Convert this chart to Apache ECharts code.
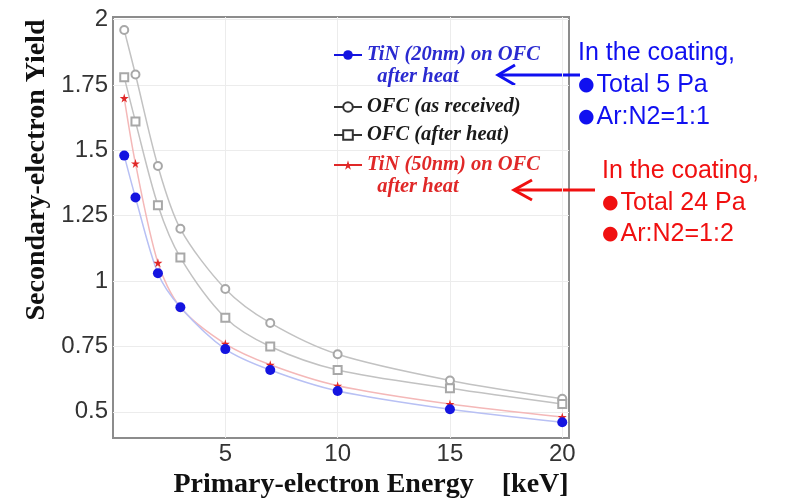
<!DOCTYPE html>
<html>
<head>
<meta charset="utf-8">
<script src="https://cdn.jsdelivr.net/npm/echarts@6/dist/echarts.min.js"></script>
<style>
  html, body { margin: 0; background: #fff; }
  #chart { width: 785px; height: 504px; }
</style>
</head>
<body>
<div id="chart"></div>
<script>
// primary-electron energy [keV]
const energy = [0.5, 1, 2, 3, 5, 7, 10, 15, 20]
// secondary-electron yield
const tin20 = [1.48, 1.32, 1.03, 0.90, 0.74, 0.66, 0.58, 0.51, 0.46]
const ofcReceived = [1.96, 1.79, 1.44, 1.20, 0.97, 0.84, 0.72, 0.62, 0.55]
const ofcHeat = [1.78, 1.61, 1.29, 1.09, 0.86, 0.75, 0.66, 0.59, 0.53]
const tin50 = [1.70, 1.45, 1.07, 0.90, 0.76, 0.68, 0.60, 0.53, 0.48]

const xTicks = [5, 10, 15, 20]
const yTicks = [0.5, 0.75, 1, 1.25, 1.5, 1.75, 2]

const N_TIN20 = 'TiN (20nm) on OFC after heat'
const N_RECV = 'OFC (as received)'
const N_HEAT = 'OFC (after heat)'
const N_TIN50 = 'TiN (50nm) on OFC after heat'

const BLUE = '#1414e0'
const RED = '#e02828'
const STAR = 'path://M50,0 L61,35 L98,35 L68,57 L79,91 L50,70 L21,91 L32,57 L2,35 L39,35 Z'
const SERIF = '"Liberation Serif", "Times New Roman", serif'
const SANS = '"Liberation Sans", Arial, sans-serif'

const pts = (ys) => energy.map((x, i) => [x, ys[i]])

const legendText = { fontFamily: SERIF, fontWeight: 'bold', fontStyle: 'italic', fontSize: 20.5, lineHeight: 22 }

// two-line names: empty first line keeps the icon on the first text line
function twoLine(name) {
  return '\n' + name.replace(' after heat', '') + '\n  after heat'
}

// side notes, bullet in its own style
const noteRich = (color, lh) => ({
  b: { fontSize: 19, fontFamily: '"DejaVu Sans", sans-serif', fill: color, lineHeight: lh, padding: [0, 2, 0, 0] },
  t: { fontSize: 25, fontFamily: SANS, fill: color, lineHeight: lh },
})

const chart = echarts.init(document.getElementById('chart'))

chart.setOption({
  animation: false,
  backgroundColor: '#fff',
  grid: { left: 113, right: 216, top: 17, bottom: 61, show: true, borderColor: '#8c8c8c', borderWidth: 2 },
  xAxis: {
    type: 'value', min: 0, max: 20.3,
    name: 'Primary-electron Energy    [keV]', nameLocation: 'middle', nameGap: 33,
    nameTextStyle: { fontFamily: SERIF, fontWeight: 'bold', fontSize: 28, color: '#111', padding: [0, 0, 0, 60] },
    axisLine: { show: false },
    axisTick: { show: false, customValues: xTicks },
    axisLabel: { customValues: xTicks, color: '#333', fontFamily: SANS, fontSize: 24, margin: 4 },
    splitLine: { lineStyle: { color: '#ececec', width: 1 } },
  },
  yAxis: {
    type: 'value', min: 0.4, max: 2.01,
    name: 'Secondary-electron Yield', nameLocation: 'middle', nameGap: 62,
    nameTextStyle: { fontFamily: SERIF, fontWeight: 'bold', fontSize: 28, color: '#111', padding: [0, 0, 0, 115] },
    axisLine: { show: false },
    axisTick: { show: false, customValues: yTicks },
    axisLabel: { customValues: yTicks, color: '#333', fontFamily: SANS, fontSize: 24, margin: 5 },
    splitLine: { lineStyle: { color: '#ececec', width: 1 } },
  },
  legend: [
    {
      left: 333, top: 22, padding: 0, selectedMode: false, itemWidth: 28, itemHeight: 12,
      textStyle: legendText, formatter: twoLine,
      data: [{ name: N_TIN20, textStyle: { color: '#2a2ad0' }, lineStyle: { color: BLUE } }],
    },
    {
      left: 333, top: 96, padding: 0, orient: 'vertical', itemGap: 6, selectedMode: false,
      itemWidth: 28, itemHeight: 12, textStyle: legendText,
      data: [
        { name: N_RECV, textStyle: { color: '#1a1a1a' }, itemStyle: { color: '#333' }, lineStyle: { color: '#333' } },
        { name: N_HEAT, textStyle: { color: '#1a1a1a' }, itemStyle: { color: '#333' }, lineStyle: { color: '#333' } },
      ],
    },
    {
      left: 333, top: 132, padding: 0, selectedMode: false, itemWidth: 28, itemHeight: 12,
      textStyle: legendText, formatter: twoLine,
      data: [{ name: N_TIN50, textStyle: { color: RED }, lineStyle: { color: RED } }],
    },
  ],
  series: [
    {
      name: N_RECV, type: 'line', data: pts(ofcReceived), smooth: 0.3,
      symbol: 'emptyCircle', symbolSize: 8,
      itemStyle: { color: '#a8a8a8' }, lineStyle: { color: '#c2c2c2', width: 1.5 },
    },
    {
      name: N_HEAT, type: 'line', data: pts(ofcHeat), smooth: 0.3,
      symbol: 'emptyRect', symbolSize: 8,
      itemStyle: { color: '#a8a8a8' }, lineStyle: { color: '#c2c2c2', width: 1.5 },
    },
    {
      name: N_TIN50, type: 'line', data: pts(tin50), smooth: 0.3,
      symbol: STAR, symbolSize: 9,
      itemStyle: { color: RED }, lineStyle: { color: '#f4b8b8', width: 1.5 },
    },
    {
      name: N_TIN20, type: 'line', data: pts(tin20), smooth: 0.3,
      symbol: 'circle', symbolSize: 10,
      itemStyle: { color: BLUE }, lineStyle: { color: '#b8c0f4', width: 1.5 },
    },
  ],
  graphic: [
    { type: 'text', left: 578, top: 41, style: { text: '{t|In the coating,}\n{b|●}{t|Total 5 Pa}\n{b|●}{t|Ar:N2=1:1}', rich: noteRich('#1010f0', 32) } },
    { type: 'text', left: 602, top: 159, style: { text: '{t|In the coating,}\n{b|●}{t|Total 24 Pa}\n{b|●}{t|Ar:N2=1:2}', rich: noteRich('#f01010', 31.5) } },
    // arrows
    { type: 'line', shape: { x1: 580, y1: 75, x2: 499, y2: 75 }, style: { stroke: '#1010f0', lineWidth: 3 } },
    { type: 'polyline', shape: { points: [[515, 65], [498, 75], [515, 85]] }, style: { stroke: '#1010f0', lineWidth: 3, fill: null } },
    { type: 'line', shape: { x1: 595, y1: 190, x2: 515, y2: 190 }, style: { stroke: '#f01010', lineWidth: 3 } },
    { type: 'polyline', shape: { points: [[532, 180], [514, 190], [532, 200]] }, style: { stroke: '#f01010', lineWidth: 3, fill: null } },
  ],
})
</script>
</body>
</html>
